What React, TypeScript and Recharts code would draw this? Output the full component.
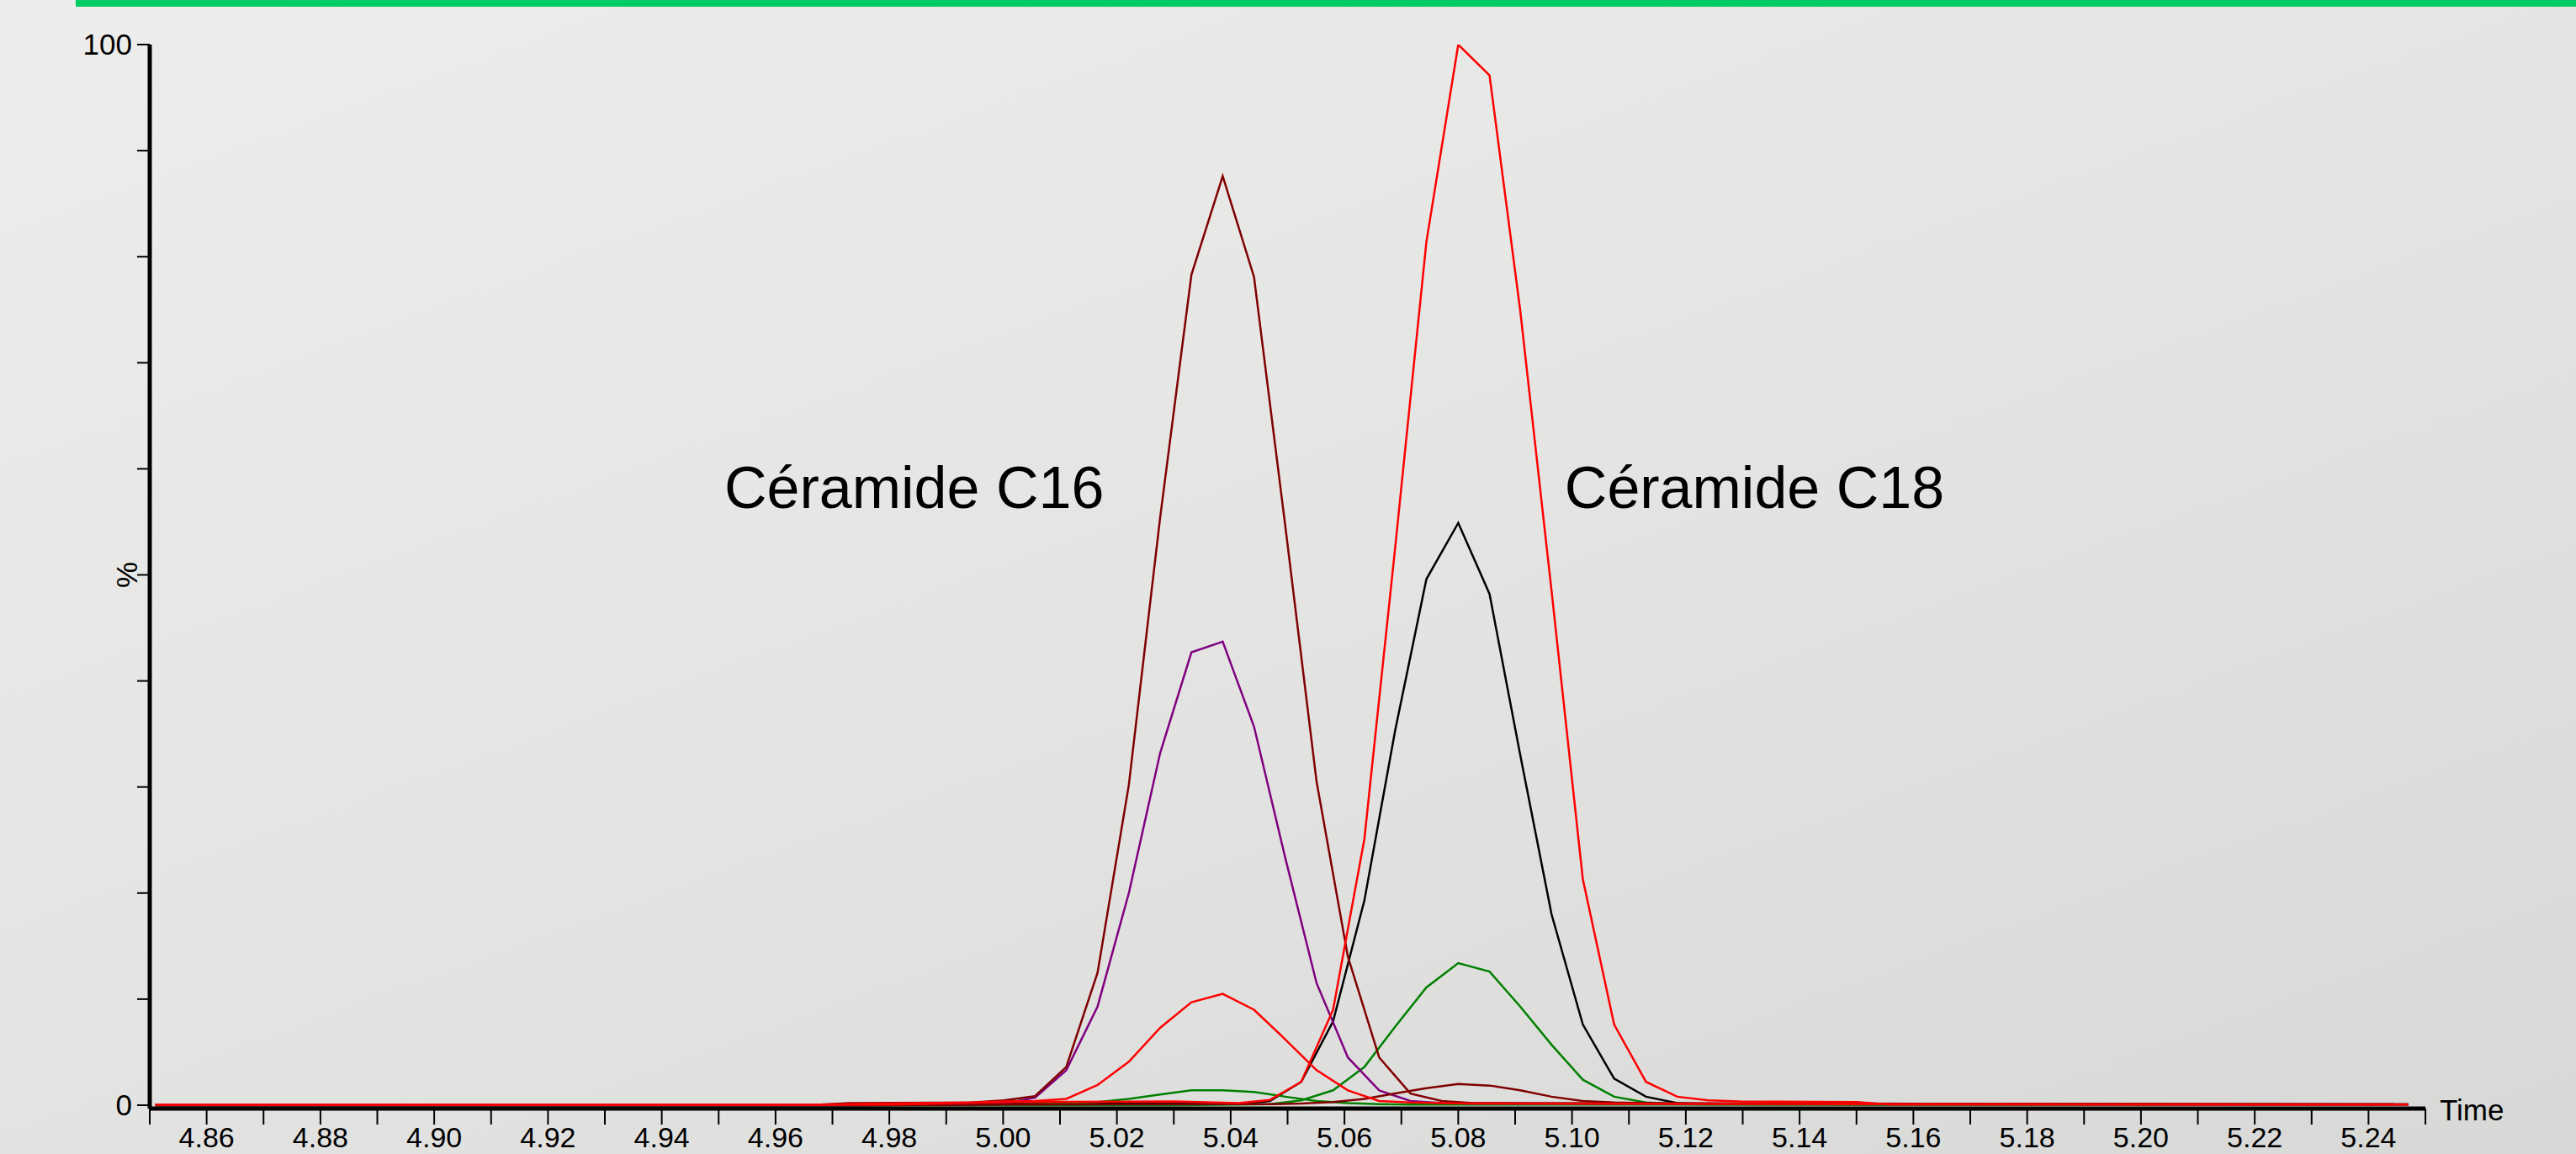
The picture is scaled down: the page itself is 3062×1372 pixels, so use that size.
import React from 'react';
import { LineChart, Line, XAxis, YAxis, ReferenceDot } from 'recharts';

// retention times (min) and intensities (%)
const t16 = [4.851, 4.968, 4.973, 4.9946, 5.0001, 5.0056, 5.0111, 5.0166, 5.0221, 5.0276, 5.0331, 5.0386, 5.0441, 5.0496, 5.0551, 5.0606, 5.0661, 5.0716, 5.0771, 5.0826, 5.15, 5.247];
const darkRed16 = [0.05, 0.05, 0.2, 0.25, 0.45, 0.85, 3.6, 12.5, 30.2, 55.4, 78.3, 87.6, 78.1, 54.6, 30.5, 14.0, 4.5, 1.1, 0.4, 0.2, 0.15, 0.1];
const purple16 = [0, 0, 0, 0.05, 0.15, 0.7, 3.3, 9.3, 20.0, 33.2, 42.7, 43.7, 35.7, 23.3, 11.5, 4.5, 1.4, 0.4, 0.2, 0.15, 0.1, 0.05];
const red16 = [0.05, 0.05, 0.1, 0.25, 0.35, 0.4, 0.6, 1.9, 4.1, 7.3, 9.7, 10.5, 9.0, 6.2, 3.3, 1.4, 0.4, 0.25, 0.2, 0.15, 0.1, 0.05];
const green16 = [0, 0, 0, 0, 0.05, 0.1, 0.2, 0.3, 0.6, 1.0, 1.4, 1.4, 1.25, 0.8, 0.4, 0.2, 0.1, 0.05, 0.05, 0.05, 0.05, 0.05];

const t18 = [4.851, 4.98, 5.0, 5.03, 5.0414, 5.0469, 5.0524, 5.058, 5.0635, 5.0689, 5.0744, 5.08, 5.0855, 5.0909, 5.0964, 5.1019, 5.1074, 5.113, 5.1185, 5.124, 5.1295, 5.15, 5.156, 5.2445];
const red18 = [0.05, 0.05, 0.3, 0.35, 0.2, 0.5, 2.2, 9.0, 25.1, 52.5, 81.4, 100, 97.1, 74.9, 48.5, 21.3, 7.6, 2.2, 0.8, 0.45, 0.35, 0.3, 0.05, 0.05];
const black18 = [0, 0, 0.15, 0.2, 0.1, 0.4, 2.2, 7.9, 19.3, 35.3, 49.6, 54.9, 48.2, 33.0, 18.0, 7.6, 2.5, 0.8, 0.2, 0.1, 0.1, 0.05, 0.05, 0.05];
const green18 = [0, 0, 0, 0, 0.05, 0.1, 0.45, 1.4, 3.6, 7.4, 11.1, 13.4, 12.6, 9.3, 5.7, 2.4, 0.8, 0.25, 0.1, 0.05, 0.05, 0.05, 0.05, 0.05];
const darkRed18 = [0, 0, 0.05, 0.1, 0.1, 0.1, 0.15, 0.3, 0.6, 1.1, 1.6, 2.0, 1.85, 1.4, 0.8, 0.4, 0.25, 0.2, 0.15, 0.15, 0.1, 0.1, 0.1, 0.1];

const xTicks = [4.85, 4.86, 4.87, 4.88, 4.89, 4.9, 4.91, 4.92, 4.93, 4.94, 4.95, 4.96, 4.97, 4.98, 4.99, 5.0, 5.01, 5.02, 5.03, 5.04, 5.05, 5.06, 5.07, 5.08, 5.09, 5.1, 5.11, 5.12, 5.13, 5.14, 5.15, 5.16, 5.17, 5.18, 5.19, 5.2, 5.21, 5.22, 5.23, 5.24, 5.25];
const yTicks = [0, 10, 20, 30, 40, 50, 60, 70, 80, 90, 100];

const notes = [
  { text: 'Céramide C16', t: 4.951, v: 56.3 },
  { text: 'Céramide C18', t: 5.0987, v: 56.3 },
];

const FONT = '"Liberation Sans", Arial, sans-serif';

const rows = (t: number[], v: number[]) => t.map((x, i) => ({ t: x, v: v[i] }));

// drawing order: last one ends up on top
const series = [
  { key: 'black18', color: '#000000', data: rows(t18, black18) },
  { key: 'green18', color: '#008000', data: rows(t18, green18) },
  { key: 'green16', color: '#008000', data: rows(t16, green16) },
  { key: 'purple16', color: '#800080', data: rows(t16, purple16) },
  { key: 'darkRed18', color: '#800000', data: rows(t18, darkRed18) },
  { key: 'darkRed16', color: '#800000', data: rows(t16, darkRed16) },
  { key: 'red16', color: '#ff0000', data: rows(t16, red16) },
  { key: 'red18', color: '#ff0000', data: rows(t18, red18) },
];

const XTick = ({ x, y, payload }: any) => {
  if (Math.round(payload.value * 100) % 2 !== 0) return null;
  return (
    <text x={x} y={y} dy={22} textAnchor="middle" fontSize={34} fontFamily={FONT} fill="#000">
      {payload.value.toFixed(2)}
    </text>
  );
};

const YTick = ({ x, y, payload }: any) => {
  if (payload.value === 50) {
    return (
      <text transform={`translate(${x + 6}, ${y}) rotate(-90)`} textAnchor="middle" fontSize={35} fontFamily={FONT} fill="#000">
        %
      </text>
    );
  }
  if (payload.value !== 0 && payload.value !== 100) return null;
  return (
    <text x={x} y={y} dy={12} textAnchor="end" fontSize={35} fontFamily={FONT} fill="#000">
      {payload.value}
    </text>
  );
};

const TimeLabel = ({ viewBox }: any) => {
  const vb = viewBox || { x: 0, y: 0, width: 0, height: 0 };
  return (
    <text x={vb.x + vb.width + 17} y={vb.y + 14} fontSize={35} fontFamily={FONT} fill="#000">
      Time
    </text>
  );
};

const Note = ({ viewBox, text }: any) => {
  const vb = viewBox || { x: 0, y: 0 };
  return (
    <text x={vb.x} y={vb.y} fontSize={70} fontFamily={FONT} fill="#000">
      {text}
    </text>
  );
};

export default function App() {
  return (
    <div
      style={{
        position: 'absolute',
        left: 0,
        top: 0,
        width: 3062,
        height: 1372,
        background: 'linear-gradient(160deg, #ededec 0%, #e4e4e3 50%, #d8d8d7 100%)',
        overflow: 'hidden',
      }}
    >
      <div style={{ position: 'absolute', left: 90, top: 0, right: 0, height: 8, background: '#00cc66' }} />
      <LineChart width={3062} height={1372} margin={{ top: 53, right: 179, bottom: 0, left: 0 }}>
        <XAxis
          dataKey="t"
          type="number"
          domain={[4.85, 5.25]}
          ticks={xTicks}
          interval={0}
          allowDataOverflow
          height={54}
          tickSize={19}
          tickMargin={5}
          axisLine={{ stroke: '#000', strokeWidth: 5 }}
          tickLine={{ stroke: '#000', strokeWidth: 2 }}
          tick={<XTick />}
          label={<TimeLabel />}
        />
        <YAxis
          type="number"
          domain={[-0.32, 100]}
          ticks={yTicks}
          interval={0}
          allowDataOverflow
          width={178}
          tickSize={15}
          tickMargin={6}
          axisLine={{ stroke: '#000', strokeWidth: 5 }}
          tickLine={{ stroke: '#000', strokeWidth: 2 }}
          tick={<YTick />}
        />
        {series.map((s) => (
          <Line
            key={s.key}
            data={s.data}
            dataKey="v"
            type="linear"
            stroke={s.color}
            strokeWidth={2.5}
            dot={false}
            activeDot={false}
            isAnimationActive={false}
          />
        ))}
        {notes.map((n) => (
          <ReferenceDot
            key={n.text}
            x={n.t}
            y={n.v}
            r={0}
            fill="none"
            stroke="none"
            isFront
            label={<Note text={n.text} />}
          />
        ))}
      </LineChart>
    </div>
  );
}
